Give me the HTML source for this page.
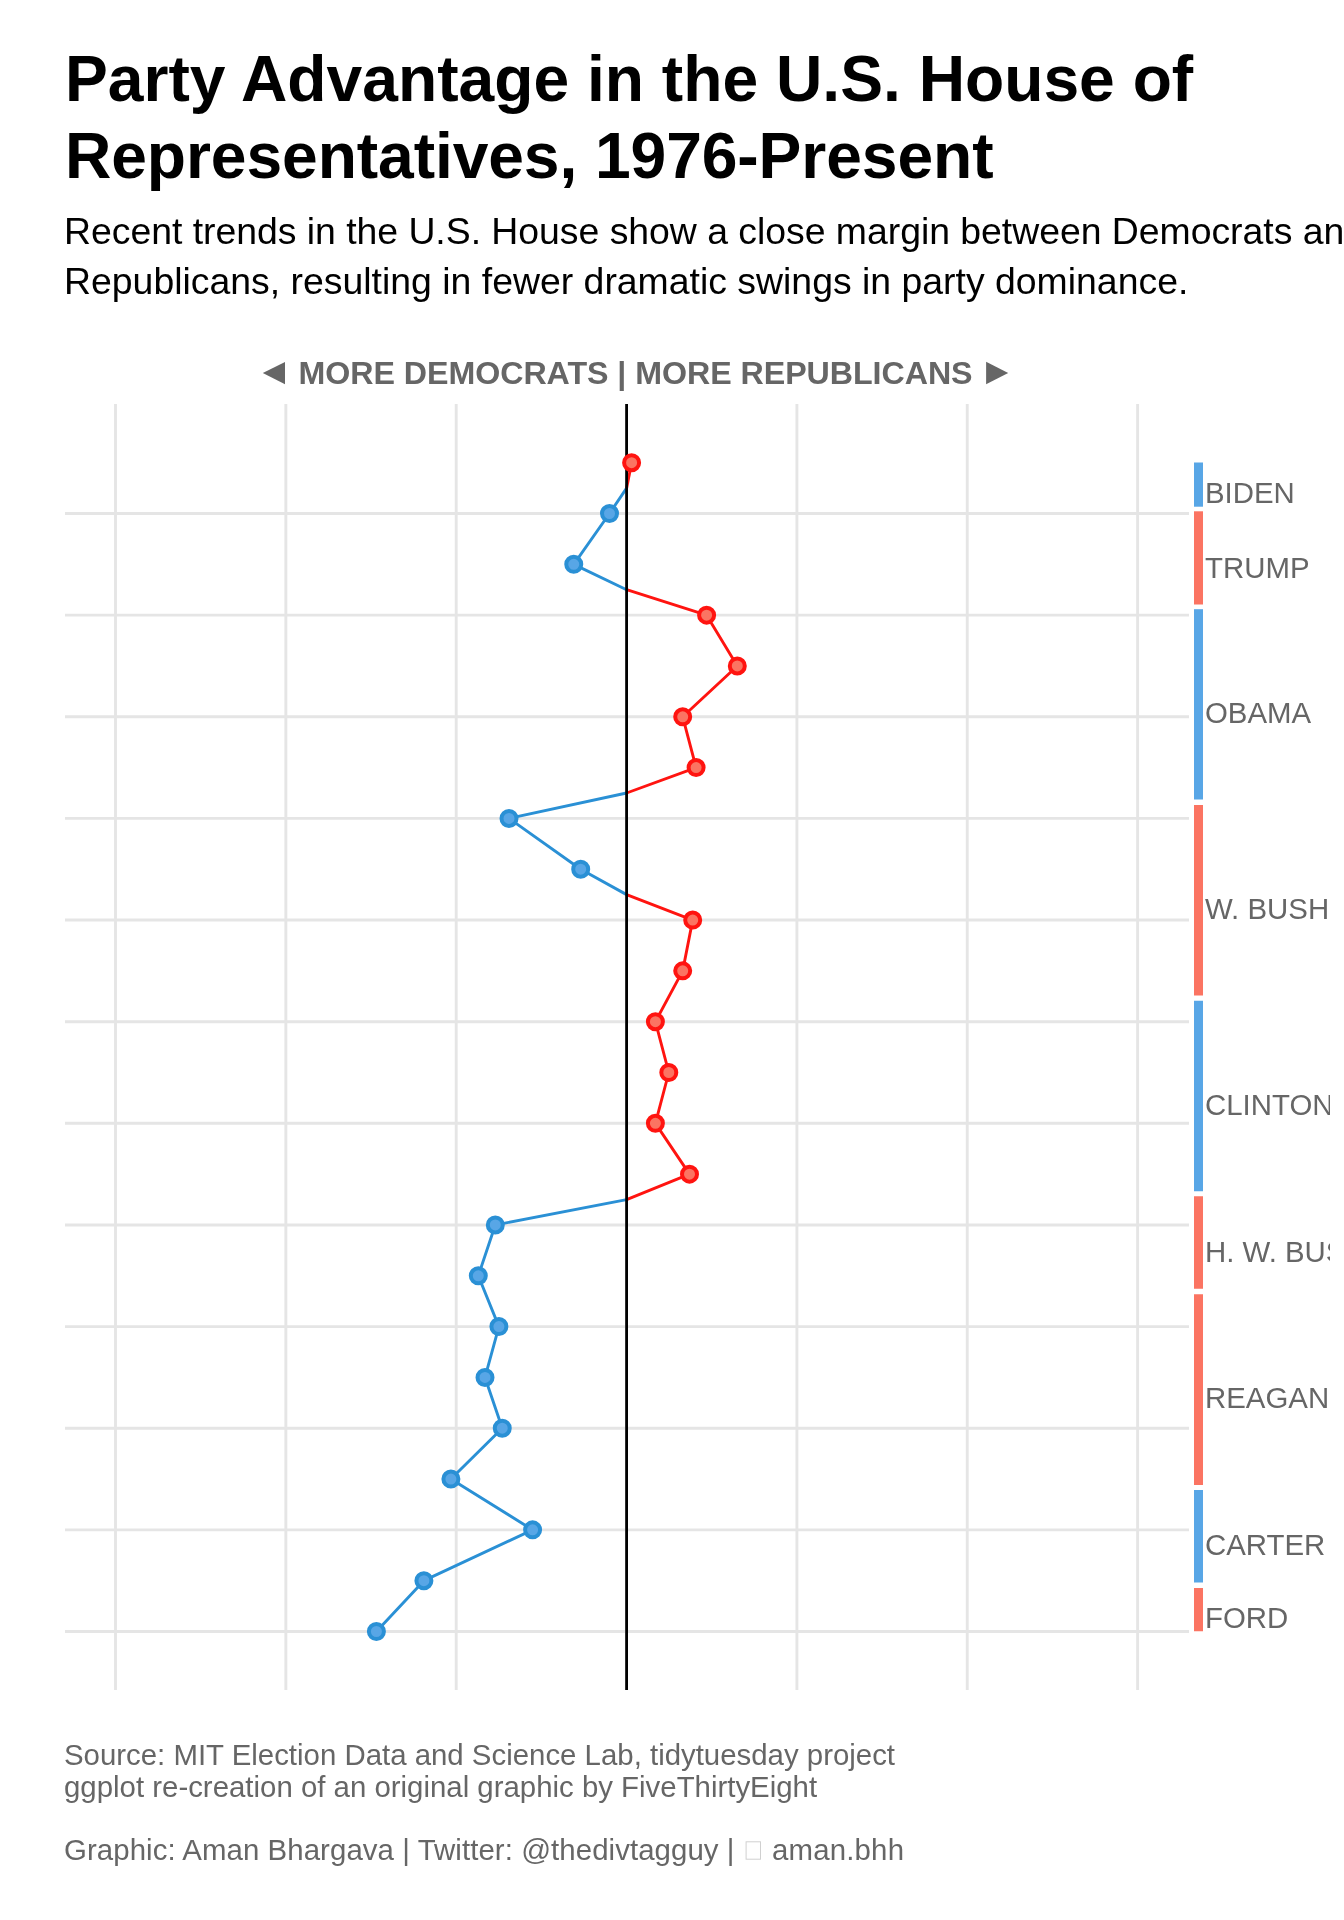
<!DOCTYPE html>
<html><head><meta charset="utf-8"><style>
html,body{margin:0;padding:0;background:#fff;width:1344px;height:1920px;overflow:hidden}
svg{display:block;will-change:transform}
text{font-family:"Liberation Sans",sans-serif}
</style></head><body>
<svg width="1344" height="1920" viewBox="0 0 1344 1920">
<defs><clipPath id="lc"><rect x="1190" y="400" width="140" height="1300"/></clipPath></defs>
<rect width="1344" height="1920" fill="#fff"/>
<g font-weight="bold" font-size="64.2" fill="#000">
<text x="65" y="100.8">Party Advantage in the U.S. House of</text>
<text x="65" y="178" textLength="928.5" lengthAdjust="spacing">Representatives, 1976-Present</text>
</g>
<g font-size="37.4" fill="#000">
<text x="64" y="244" textLength="1301" lengthAdjust="spacing">Recent trends in the U.S. House show a close margin between Democrats and</text>
<text x="64" y="293.7">Republicans, resulting in fewer dramatic swings in party dominance.</text>
</g>
<g fill="#666"><polygon points="262.8,373.1 285,361.9 285,384.2"/><polygon points="986.1,361.8 1008.2,373 986.1,384.2"/>
<text id="hdr" x="298.5" y="384" font-weight="bold" font-size="32.2" textLength="674.1" lengthAdjust="spacing">MORE DEMOCRATS | MORE REPUBLICANS</text></g>
<line x1="65" y1="513.50" x2="1189" y2="513.50" stroke="#e5e5e5" stroke-width="2.9"/>
<line x1="65" y1="615.14" x2="1189" y2="615.14" stroke="#e5e5e5" stroke-width="2.9"/>
<line x1="65" y1="716.77" x2="1189" y2="716.77" stroke="#e5e5e5" stroke-width="2.9"/>
<line x1="65" y1="818.41" x2="1189" y2="818.41" stroke="#e5e5e5" stroke-width="2.9"/>
<line x1="65" y1="920.04" x2="1189" y2="920.04" stroke="#e5e5e5" stroke-width="2.9"/>
<line x1="65" y1="1021.68" x2="1189" y2="1021.68" stroke="#e5e5e5" stroke-width="2.9"/>
<line x1="65" y1="1123.32" x2="1189" y2="1123.32" stroke="#e5e5e5" stroke-width="2.9"/>
<line x1="65" y1="1224.95" x2="1189" y2="1224.95" stroke="#e5e5e5" stroke-width="2.9"/>
<line x1="65" y1="1326.59" x2="1189" y2="1326.59" stroke="#e5e5e5" stroke-width="2.9"/>
<line x1="65" y1="1428.22" x2="1189" y2="1428.22" stroke="#e5e5e5" stroke-width="2.9"/>
<line x1="65" y1="1529.86" x2="1189" y2="1529.86" stroke="#e5e5e5" stroke-width="2.9"/>
<line x1="65" y1="1631.50" x2="1189" y2="1631.50" stroke="#e5e5e5" stroke-width="2.9"/>
<line x1="115.50" y1="404" x2="115.50" y2="1690" stroke="#e5e5e5" stroke-width="2.9"/>
<line x1="285.85" y1="404" x2="285.85" y2="1690" stroke="#e5e5e5" stroke-width="2.9"/>
<line x1="456.20" y1="404" x2="456.20" y2="1690" stroke="#e5e5e5" stroke-width="2.9"/>
<line x1="626.55" y1="404" x2="626.55" y2="1690" stroke="#e5e5e5" stroke-width="2.9"/>
<line x1="796.90" y1="404" x2="796.90" y2="1690" stroke="#e5e5e5" stroke-width="2.9"/>
<line x1="967.25" y1="404" x2="967.25" y2="1690" stroke="#e5e5e5" stroke-width="2.9"/>
<line x1="1137.60" y1="404" x2="1137.60" y2="1690" stroke="#e5e5e5" stroke-width="2.9"/>
<polyline points="376.40,1631.50 423.90,1580.68 532.60,1529.86 450.90,1479.05 502.25,1428.23 485.00,1377.41 498.90,1326.59 478.30,1275.77 495.30,1224.96 626.60,1199.55" fill="none" stroke="#2a90d5" stroke-width="2.9" stroke-linejoin="round" stroke-linecap="butt"/>
<polyline points="626.60,1199.55 689.50,1174.14 655.40,1123.32 668.80,1072.50 655.40,1021.68 682.70,970.87 692.70,920.05 626.60,894.64" fill="none" stroke="#ff1410" stroke-width="2.9" stroke-linejoin="round" stroke-linecap="butt"/>
<polyline points="626.60,894.64 580.70,869.23 509.00,818.41 626.60,793.00" fill="none" stroke="#2a90d5" stroke-width="2.9" stroke-linejoin="round" stroke-linecap="butt"/>
<polyline points="626.60,793.00 696.10,767.59 682.70,716.78 737.30,665.96 706.60,615.14 626.60,589.73" fill="none" stroke="#ff1410" stroke-width="2.9" stroke-linejoin="round" stroke-linecap="butt"/>
<polyline points="626.60,589.73 573.75,564.32 609.50,513.50 626.60,488.10" fill="none" stroke="#2a90d5" stroke-width="2.9" stroke-linejoin="round" stroke-linecap="butt"/>
<polyline points="626.60,488.10 631.60,462.69" fill="none" stroke="#ff1410" stroke-width="2.9" stroke-linejoin="round" stroke-linecap="butt"/>
<line x1="626.6" y1="404" x2="626.6" y2="1690" stroke="#000" stroke-width="2.8"/>
<circle cx="376.4" cy="1631.50" r="7.5" fill="#58a6e6" stroke="#2a90d5" stroke-width="4"/>
<circle cx="423.9" cy="1580.68" r="7.5" fill="#58a6e6" stroke="#2a90d5" stroke-width="4"/>
<circle cx="532.6" cy="1529.86" r="7.5" fill="#58a6e6" stroke="#2a90d5" stroke-width="4"/>
<circle cx="450.9" cy="1479.05" r="7.5" fill="#58a6e6" stroke="#2a90d5" stroke-width="4"/>
<circle cx="502.25" cy="1428.23" r="7.5" fill="#58a6e6" stroke="#2a90d5" stroke-width="4"/>
<circle cx="485.0" cy="1377.41" r="7.5" fill="#58a6e6" stroke="#2a90d5" stroke-width="4"/>
<circle cx="498.9" cy="1326.59" r="7.5" fill="#58a6e6" stroke="#2a90d5" stroke-width="4"/>
<circle cx="478.3" cy="1275.77" r="7.5" fill="#58a6e6" stroke="#2a90d5" stroke-width="4"/>
<circle cx="495.3" cy="1224.96" r="7.5" fill="#58a6e6" stroke="#2a90d5" stroke-width="4"/>
<circle cx="689.5" cy="1174.14" r="7.5" fill="#fb7462" stroke="#ff1410" stroke-width="4"/>
<circle cx="655.4" cy="1123.32" r="7.5" fill="#fb7462" stroke="#ff1410" stroke-width="4"/>
<circle cx="668.8" cy="1072.50" r="7.5" fill="#fb7462" stroke="#ff1410" stroke-width="4"/>
<circle cx="655.4" cy="1021.68" r="7.5" fill="#fb7462" stroke="#ff1410" stroke-width="4"/>
<circle cx="682.7" cy="970.87" r="7.5" fill="#fb7462" stroke="#ff1410" stroke-width="4"/>
<circle cx="692.7" cy="920.05" r="7.5" fill="#fb7462" stroke="#ff1410" stroke-width="4"/>
<circle cx="580.7" cy="869.23" r="7.5" fill="#58a6e6" stroke="#2a90d5" stroke-width="4"/>
<circle cx="509.0" cy="818.41" r="7.5" fill="#58a6e6" stroke="#2a90d5" stroke-width="4"/>
<circle cx="696.1" cy="767.59" r="7.5" fill="#fb7462" stroke="#ff1410" stroke-width="4"/>
<circle cx="682.7" cy="716.78" r="7.5" fill="#fb7462" stroke="#ff1410" stroke-width="4"/>
<circle cx="737.3" cy="665.96" r="7.5" fill="#fb7462" stroke="#ff1410" stroke-width="4"/>
<circle cx="706.6" cy="615.14" r="7.5" fill="#fb7462" stroke="#ff1410" stroke-width="4"/>
<circle cx="573.75" cy="564.32" r="7.5" fill="#58a6e6" stroke="#2a90d5" stroke-width="4"/>
<circle cx="609.5" cy="513.50" r="7.5" fill="#58a6e6" stroke="#2a90d5" stroke-width="4"/>
<circle cx="631.6" cy="462.69" r="7.5" fill="#fb7462" stroke="#ff1410" stroke-width="4"/>
<rect x="1194" y="462.5" width="9" height="44.20" fill="#58a6e6"/>
<rect x="1194" y="511.3" width="9" height="93.20" fill="#fb7462"/>
<rect x="1194" y="609.2" width="9" height="190.30" fill="#58a6e6"/>
<rect x="1194" y="805" width="9" height="190.50" fill="#fb7462"/>
<rect x="1194" y="1000.75" width="9" height="190.50" fill="#58a6e6"/>
<rect x="1194" y="1196.25" width="9" height="92.50" fill="#fb7462"/>
<rect x="1194" y="1294.25" width="9" height="190.75" fill="#fb7462"/>
<rect x="1194" y="1490" width="9" height="92.50" fill="#58a6e6"/>
<rect x="1194" y="1588" width="9" height="43.25" fill="#fb7462"/>
<g clip-path="url(#lc)" font-size="29.4" fill="#666">
<text x="1205" y="503">BIDEN</text>
<text x="1205" y="577.5">TRUMP</text>
<text x="1205" y="723.3">OBAMA</text>
<text x="1205" y="918.75">W. BUSH</text>
<text x="1205" y="1115">CLINTON</text>
<text x="1205" y="1262">H. W. BUSH</text>
<text x="1205" y="1408">REAGAN</text>
<text x="1205" y="1555">CARTER</text>
<text x="1205" y="1627.5">FORD</text>
</g>
<g font-size="29.4" fill="#666">
<text x="64" y="1765">Source: MIT Election Data and Science Lab, tidytuesday project</text>
<text x="64" y="1797">ggplot re-creation of an original graphic by FiveThirtyEight</text>
<text id="gr" x="64" y="1860" textLength="670.5" lengthAdjust="spacing">Graphic: Aman Bhargava | Twitter: @thedivtagguy |</text>
<rect x="746.1" y="1841.8" width="14.4" height="17.4" fill="none" stroke="#d0d0d0" stroke-width="1"/>
<text id="am" x="772" y="1860" textLength="132" lengthAdjust="spacing">aman.bhh</text>
</g>
</svg>
</body></html>
